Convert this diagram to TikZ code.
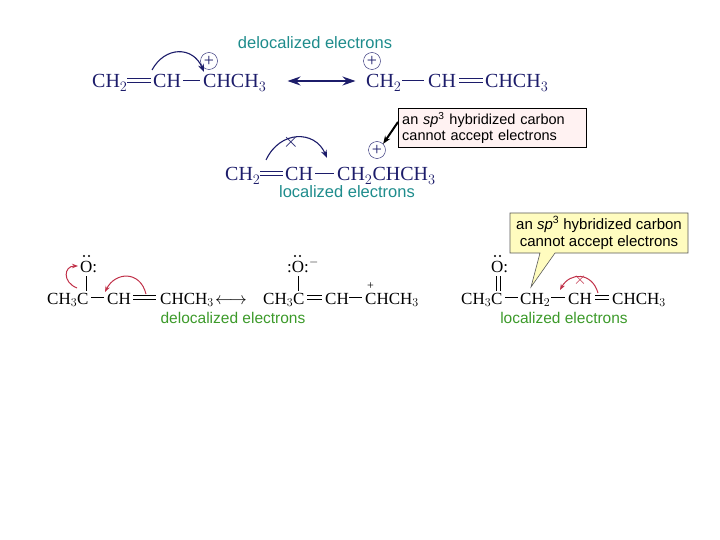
\documentclass[tikz,border=0pt]{standalone}
\usepackage{fontspec}
\setmainfont{Liberation Serif}
\newfontfamily\sans{Liberation Sans}
\usetikzlibrary{arrows.meta}
\definecolor{navy}{HTML}{1C1C6A}
\definecolor{teal2}{HTML}{1E8C8C}
\definecolor{grn}{HTML}{3C9A2A}
\definecolor{rd}{HTML}{C03048}
\begin{document}
\begin{tikzpicture}[x=1pt,y=1pt,
 f/.style={anchor=base west,inner sep=0,font=\fontsize{20}{24}\selectfont,text=navy},
 g/.style={anchor=base west,inner sep=0,font=\fontsize{17}{20}\selectfont,text=black},
 lab/.style={font=\sans\fontsize{16.5}{18}\selectfont,text=teal2,inner sep=0},
 glab/.style={font=\sans\fontsize{15.5}{17}\selectfont,text=grn,inner sep=0},
 pl/.style={circle,draw=navy,inner sep=0,minimum size=17pt,font=\fontsize{18}{18}\selectfont,text=navy},
 bond/.style={navy,line width=1pt},
 bbond/.style={black,line width=0.8pt},
 carr/.style={navy,line width=1.1pt,-{Stealth[length=8pt]}},
 rarr/.style={rd,line width=1pt,-{Stealth[length=6pt]}}]
\useasboundingbox (0,0) rectangle (720,-540);
% ---- top
\node[lab] (t1) at (315,-43) {delocalized electrons};
\node[f] (a1) at (92,-88) {CH$_2$};
\node[f] (a2) at (153,-88) {CH};
\node[f] (a3) at (203,-88) {CHCH$_3$};
\draw[bond] (127,-79) -- (151,-79) (127,-83) -- (151,-83);
\draw[bond] (183,-81) -- (200,-81);
\node[pl] (p1) at (209,-61) {+};
\draw[carr] (152,-70) .. controls (165,-46) and (193,-46) .. (204,-72);
\node (l1) at (284,-81) {}; \node (r1) at (359,-81) {};
\draw[navy,line width=1.2pt,{Stealth[length=13pt,width=9pt]}-{Stealth[length=13pt,width=9pt]}] (l1) -- (r1);
\node[f] (b1) at (366,-88) {CH$_2$};
\node[f] (b2) at (428,-88) {CH};
\node[f] (b3) at (485,-88) {CHCH$_3$};
\draw[bond] (402,-81) -- (424,-81);
\draw[bond] (459,-79) -- (483,-79) (459,-83) -- (483,-83);
\node[pl] (p2) at (372,-61) {+};
% ---- middle
\node[f] (c1) at (225,-181) {CH$_2$};
\node[f] (c2) at (285,-181) {CH};
\node[f] (c3) at (337,-181) {CH$_2$CHCH$_3$};
\draw[bond] (260,-172) -- (283,-172) (260,-176) -- (283,-176);
\draw[bond] (315,-174) -- (334,-174);
\node[pl] (p3) at (377,-150) {+};
\draw[carr] (266,-160) .. controls (280,-130) and (315,-130) .. (327,-158);
\node[navy,font=\fontsize{22}{22}\selectfont,inner sep=0] (x1) at (291,-142) {$\times$};
\node[lab] (t2) at (347,-192) {localized electrons};
\node[draw=black,fill=red!5,inner sep=4pt,anchor=north west,text width=180pt,align=left,
 font=\sans\fontsize{14.5}{16}\selectfont] (box1) at (398,-108) {an \textit{sp}\textsuperscript{3} hybridized carbon\\cannot accept electrons};
\draw[black,line width=2pt,-{Stealth[length=8pt]}] (box1.west |- 0,-122) -- (p3.north east);
% ---- bottom left
\node[g] (d1) at (47,-304) {CH$_3$C};
\node[g] (d2) at (107,-304) {CH};
\node[g] (d3) at (160,-304) {CHCH$_3$};
\node[g] (o1) at (80,-272) {O:};
\fill (84,-256) circle (1.2pt) (89,-256) circle (1.2pt);
\draw[bbond] (86,-276) -- (86,-291);
\draw[bbond] (91,-297) -- (104,-297);
\draw[bbond] (133,-295) -- (156,-295) (133,-299) -- (156,-299);
\draw[rarr] (77,-288) .. controls (62,-282) and (64,-266) .. (78,-266);
\draw[rarr] (146,-294) .. controls (140,-270) and (115,-272) .. (105,-292);
\node[g] (la) at (215,-304) {$\longleftrightarrow$};
\node[g] (e1) at (263,-304) {CH$_3$C};
\node[g] (e2) at (325,-304) {CH};
\node[g] (e3) at (365,-304) {CHCH$_3$};
\node[g] (o2) at (287,-272) {:O:};
\fill (295,-256) circle (1.2pt) (300,-256) circle (1.2pt);
\node[g,font=\fontsize{12}{12}\selectfont] (m1) at (309,-265) {$-$};
\node[g,font=\fontsize{12}{12}\selectfont] (pp) at (367,-289) {+};
\draw[bbond] (298,-276) -- (298,-291);
\draw[bbond] (307,-295) -- (322,-295) (307,-299) -- (322,-299);
\draw[bbond] (349,-297) -- (362,-297);
\node[glab] (t3) at (233,-318) {delocalized electrons};
% ---- bottom right
\node[g] (h1) at (461,-304) {CH$_3$C};
\node[g] (h2) at (520,-304) {CH$_2$};
\node[g] (h3) at (568,-304) {CH};
\node[g] (h4) at (612,-304) {CHCH$_3$};
\node[g] (o3) at (491,-272) {O:};
\fill (495,-256) circle (1.2pt) (500,-256) circle (1.2pt);
\draw[bbond] (496,-276) -- (496,-291) (500,-276) -- (500,-291);
\draw[bbond] (505,-297) -- (518,-297);
\draw[bbond] (551,-297) -- (565,-297);
\draw[bbond] (595,-295) -- (609,-295) (595,-299) -- (609,-299);
\draw[rarr] (598,-293) .. controls (592,-272) and (570,-272) .. (560,-290);
\node[rd,font=\fontsize{16}{16}\selectfont,inner sep=0] (x2) at (580,-280) {$\times$};
\node[glab] (t4) at (564,-318) {localized electrons};
\draw[gray!70!black,fill=yellow!25,line width=0.6pt] (510,-213) -- (688,-213) -- (688,-253) -- (555,-253) -- (531,-287) -- (540,-253) -- (510,-253) -- cycle;
\node[align=center,font=\sans\fontsize{15}{17}\selectfont,inner sep=0] (box2) at (599,-233) {an \textit{sp}\textsuperscript{3} hybridized carbon\\cannot accept electrons};
\end{tikzpicture}
\end{document}
